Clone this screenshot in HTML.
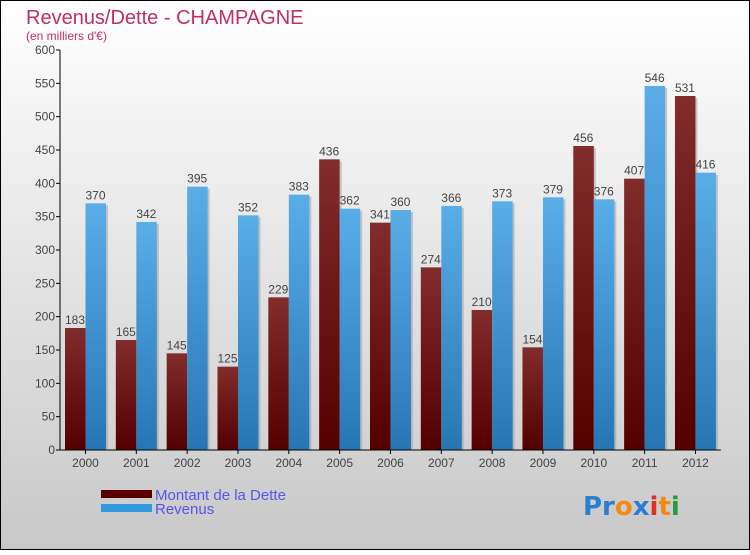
<!DOCTYPE html>
<html><head><meta charset="utf-8"><style>
html,body{margin:0;padding:0}
body{width:750px;height:550px;overflow:hidden;font-family:"Liberation Sans",sans-serif}
</style></head><body>
<svg id="chart" width="750" height="550" xmlns="http://www.w3.org/2000/svg">
<defs>
<linearGradient id="bg" x1="0" y1="0" x2="0" y2="1"><stop offset="0" stop-color="#ffffff"/><stop offset="1" stop-color="#c8c8c8"/></linearGradient>
<linearGradient id="gd" x1="0" y1="0" x2="0" y2="1"><stop offset="0" stop-color="#822c2c"/><stop offset="1" stop-color="#540000"/></linearGradient>
<linearGradient id="gr" x1="0" y1="0" x2="0" y2="1"><stop offset="0" stop-color="#5aaee8"/><stop offset="1" stop-color="#2676b4"/></linearGradient>
</defs>
<rect x="0.5" y="0.5" width="749" height="549" fill="url(#bg)" stroke="#000"/>
<text x="26" y="24" font-size="20" fill="#c0305a">Revenus/Dette - CHAMPAGNE</text>
<text x="26" y="40" font-size="12" fill="#c0305a">(en milliers d'€)</text>
<g id="bars"></g><g id="axes"></g>
<g>
<rect x="101" y="490" width="51" height="8" fill="#5a0000"/>
<text x="155" y="500" font-size="15" fill="#5555ee">Montant de la Dette</text>
<rect x="101" y="504" width="51" height="8" fill="#3399dd"/>
<text x="155" y="514" font-size="15" fill="#5555ee">Revenus</text>
</g>
<text x="583" y="515" font-size="26" font-weight="bold" font-family="DejaVu Sans, sans-serif"><tspan fill="#2a7fd0">Pr</tspan><tspan fill="#f08a10">o</tspan><tspan fill="#2a7fd0">x</tspan><tspan fill="#e03020">i</tspan><tspan fill="#f08a10">t</tspan><tspan fill="#2a9a40">i</tspan></text>
</svg>
<script>
const categories=["2000","2001","2002","2003","2004","2005","2006","2007","2008","2009","2010","2011","2012"];
const detteValues=[183,165,145,125,229,436,341,274,210,154,456,407,531];
const revenusValues=[370,342,395,352,383,362,360,366,373,379,376,546,416];
const yTicks=[0,50,100,150,200,250,300,350,400,450,500,550,600];
const NS="http://www.w3.org/2000/svg";
const x0=60,gw=50.83,yb=450,yt=50,ymax=600;
const y=v=>yb-(v/ymax)*(yb-yt);
function el(t,a,p){const e=document.createElementNS(NS,t);for(const k in a)e.setAttribute(k,a[k]);p.appendChild(e);return e;}
const bars=document.getElementById('bars'),axes=document.getElementById('axes');
yTicks.forEach(v=>{
 const tk=el('line',{x1:x0-4,x2:x0,y1:y(v),y2:y(v),stroke:'#000'},axes);
 
 
 const t=el('text',{x:x0-5,y:y(v)+4,'font-size':12,fill:'#444','text-anchor':'end'},axes);
 t.textContent=v;
 
 
});
categories.forEach((c,i)=>{
 const gx=x0+i*gw;
 [[detteValues[i],'url(#gd)',5,'bar-dette'],[revenusValues[i],'url(#gr)',25.5,'bar-revenus']].forEach(([v,f,off,n])=>{
  const bx=gx+off;
  const s=el('rect',{x:bx+2,y:y(v)+2,width:20.5,height:yb-y(v)-2,fill:'#999',opacity:0.5},bars);
  
  
  const r=el('rect',{x:bx,y:y(v),width:20.5,height:yb-y(v),fill:f},bars);
  
  
  const t=el('text',{x:bx+10,y:y(v)-4,'font-size':12,fill:'#444','text-anchor':'middle'},bars);
  t.textContent=v;
  
  
 });
 const tk=el('line',{x1:gx+25.5,x2:gx+25.5,y1:yb,y2:yb+4,stroke:'#000'},axes);
 
 
 const t=el('text',{x:gx+25.5,y:yb+17,'font-size':12,fill:'#444','text-anchor':'middle'},axes);
 t.textContent=c;
 
 
});
const ya=el('line',{x1:x0,x2:x0,y1:yt,y2:yb,stroke:'#000'},axes);


const xa=el('line',{x1:x0,x2:x0+13*gw,y1:yb,y2:yb,stroke:'#000'},axes);


</script>
</body></html>
